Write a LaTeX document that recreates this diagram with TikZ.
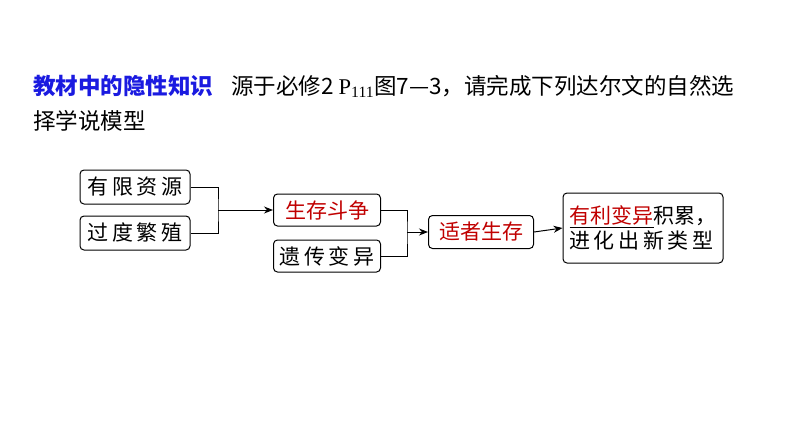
\documentclass[tikz,border=0pt]{standalone}
\usepackage{fontspec}
\setmainfont{Liberation Serif}
\newfontfamily\cjk{Noto Sans CJK SC}
\usetikzlibrary{arrows.meta}
\definecolor{redt}{HTML}{C00000}
\definecolor{bluet}{HTML}{1A1AE0}
\tikzset{
 bx/.style={draw,line width=1pt,rounded corners=4pt,inner sep=0pt,font=\cjk\fontsize{21}{24}\selectfont},
 ln/.style={line width=1pt},
 ar/.style={line width=1pt,-{Stealth[length=9pt,width=7pt]}},
}
\begin{document}
\begin{tikzpicture}[x=1pt,y=-1pt]
\useasboundingbox (0,0) rectangle (794,447);
\node[anchor=west,font=\cjk\fontsize{22.5}{26}\selectfont,inner sep=0] (t1) at (33,86)
 {\textcolor{bluet}{\bfseries 教材中的隐性知识}\hspace{18pt}源于必修2 {\rmfamily P\textsubscript{111}}图7—3，请完成下列达尔文的自然选};
\node[anchor=west,font=\cjk\fontsize{22.5}{26}\selectfont,inner sep=0] (t2) at (33,121) {择学说模型};
\node[bx,minimum width=110pt,minimum height=34pt] (a) at (135,187) {有\,限\,资\,源};
\node[bx,minimum width=110pt,minimum height=34pt] (b) at (135,233) {过\,度\,繁\,殖};
\node[bx,minimum width=107pt,minimum height=32pt,text=redt] (c) at (327,210) {生存斗争};
\node[bx,minimum width=107pt,minimum height=32pt] (d) at (327,256) {遗\,传\,变\,异};
\node[bx,minimum width=105pt,minimum height=33pt,text=redt] (e) at (481,232) {适者生存};
\node[bx,minimum width=160pt,minimum height=70pt,align=left] (f) at (643,228)
 {\underline{\textcolor{redt}{有利变异}}积累，\\[1pt]进\,化\,出\,新\,类\,型};
\coordinate (j1) at (218,210);
\coordinate (j2) at (407,232);
\draw[ln] (a.east) -| (j1) |- (b.east);
\draw[ar] (j1) -- (c.west);
\draw[ln] (c.east) -| (j2) |- (d.east);
\draw[ar] (j2) -- (e.west);
\draw[ar] (e.east) -- (f.west);
\end{tikzpicture}
\end{document}
